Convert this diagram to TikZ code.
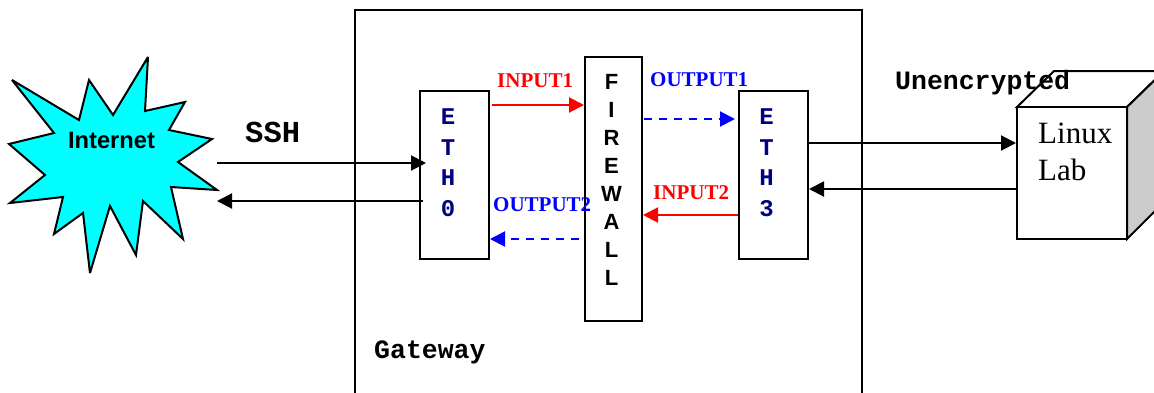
\documentclass[tikz,border=0pt]{standalone}
\usepackage{fontspec}
\setmainfont{Liberation Serif}
\setsansfont{Liberation Sans}
\setmonofont{Liberation Mono}
\usetikzlibrary{arrows.meta,positioning}
\definecolor{gwcyan}{RGB}{0,255,255}
\definecolor{gwnavy}{RGB}{0,0,128}
\definecolor{gwred}{RGB}{255,0,0}
\definecolor{gwblue}{RGB}{0,0,255}
\definecolor{gwgray}{RGB}{204,204,204}
\tikzstyle{box} = [draw=black,line width=2pt,fill=white,inner sep=0pt]
\tikzstyle{arrow} = [line width=2pt,-{Triangle[length=15pt,width=15pt]},color=black]
\tikzstyle{inarrow} = [arrow,color=gwred]
\tikzstyle{outarrow} = [arrow,color=gwblue,dash pattern=on 8pt off 7pt]
\tikzstyle{ethtext} = [font=\fontsize{24}{30.5}\selectfont\ttfamily\bfseries,color=gwnavy,align=center,inner sep=0pt]
\tikzstyle{title} = [font=\fontsize{26.5}{30}\selectfont\ttfamily\bfseries,anchor=west,inner sep=0pt]
\tikzstyle{chain} = [font=\fontsize{21}{24}\selectfont\bfseries,inner sep=0pt]

\begin{document}
\begin{tikzpicture}[x=1pt,y=-1pt]
    \useasboundingbox (0,0) rectangle (1154,392);
    \clip (0,0) rectangle (1154,392);

    % Internet
    \draw[line width=2pt,fill=gwcyan,miter limit=4] (12,80) -- (79,120) -- (89,80) -- (113,115)
        -- (148,57) -- (145,111) -- (185,102) -- (169,130) -- (212,139) -- (178,162)
        -- (217,190) -- (171,187) -- (183,239) -- (143,201) -- (136,255) -- (110,206)
        -- (90,273) -- (83,213) -- (54,234) -- (63,197) -- (10,203) -- (45,175)
        -- (9,144) -- (54,133) -- cycle;
    \node[font=\fontsize{23.7}{26}\selectfont\sffamily\bfseries,inner sep=0pt] (internet) at (111.5,140) {Internet};

    % Gateway
    \draw[line width=2pt] (355,393) -- (355,9.5) -- (862,9.5) -- (862,393);
    \node[title] (gateway) at (374,352.5) {Gateway};

    % Boxes
    \node[box,minimum width=69pt,minimum height=168pt] (eth0) at (454.5,175) {};
    \node[box,minimum width=57pt,minimum height=264pt] (firewall) at (613.5,189) {};
    \node[box,minimum width=69pt,minimum height=168pt] (eth3) at (773.5,175) {};
    \node[ethtext] (eth0text) at (448,162.5) {E\\T\\H\\0};
    \node[ethtext] (eth3text) at (766.5,162.5) {E\\T\\H\\3};
    \node[font=\fontsize{22}{28}\selectfont\sffamily\bfseries,align=center,inner sep=0pt] (firewalltext) at (611.5,179.5) {F\\I\\R\\E\\W\\A\\L\\L};

    % Linux Lab
    \draw[line width=2pt,fill=white] (1017,107) -- (1054,71) -- (1164,71) -- (1127,107) -- cycle;
    \draw[line width=2pt,fill=gwgray] (1127,107) -- (1164,71) -- (1164,202) -- (1127,239) -- cycle;
    \node[box,minimum width=110pt,minimum height=132pt] (lab) at (1072,173) {};
    \node[font=\fontsize{31}{37}\selectfont,align=left,inner sep=0pt,anchor=north west] (labtext) at (1038,123) {Linux\\Lab};

    % Free ends
    \coordinate (inetin) at (217,163);
    \coordinate (inetout) at (217,201);
    \coordinate (input1) at (492,105);
    \coordinate (output1) at (643.5,119);
    \coordinate (output2) at (579,239);

    % Arrows
    \draw[arrow] (inetin) -- ([xshift=7pt]inetin -| eth0.west);
    \draw[arrow] ([xshift=4pt]inetout -| eth0.west) -- (inetout);
    \draw[inarrow] (input1) -- (input1 -| firewall.west);
    \draw[outarrow] (output1) -- ([xshift=-3pt]output1 -| eth3.west);
    \draw[inarrow] (eth3.west |- 0,215) -- (firewall.east |- 0,215);
    \draw[outarrow] (output2) -- (output2 -| eth0.east);
    \draw[arrow] (eth3.east |- 0,143) -- (lab.west |- 0,143);
    \draw[arrow] (lab.west |- 0,189) -- (eth3.east |- 0,189);

    % Labels
    \node[title,font=\fontsize{30.5}{32}\selectfont\ttfamily\bfseries] (ssh) at (245,132.5) {SSH};
    \node[title] (unencrypted) at (895,82.5) {Unencrypted};
    \node[chain,color=gwred,anchor=west] (input1text) at (497,81) {INPUT1};
    \node[chain,color=gwblue,anchor=west] (output1text) at (650,79.5) {OUTPUT1};
    \node[chain,color=gwred,anchor=west] (input2text) at (653,193) {INPUT2};
    \node[chain,color=gwblue,anchor=west] (output2text) at (493,204.5) {OUTPUT2};
\end{tikzpicture}
\end{document}
